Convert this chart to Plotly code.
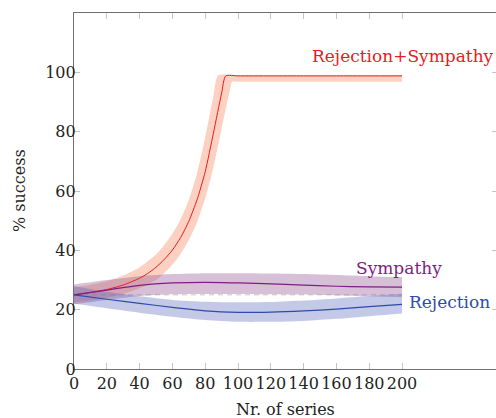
import plotly.graph_objects as go

# ---------------- data ----------------
# Rejection+Sympathy (red)
rs_x = [0, 10, 20, 30, 40, 45, 50, 55, 60, 65, 70, 75, 80, 85, 90, 92.5, 100, 120, 140, 160, 180, 200]
rs_y = [25, 25.8, 26.8, 28.3, 30.6, 32.2, 34.3, 36.9, 40.1, 44.3, 49.8, 57, 66.5, 79.5, 93, 98.8,
        98.8, 98.8, 98.8, 98.8, 98.8, 98.8]
rs_up_x = [0, 10, 20, 30, 40, 50, 55, 60, 65, 70, 75, 80, 85, 87.8, 100, 120, 140, 160, 180, 200]
rs_up_y = [27.5, 28.4, 29.6, 31.5, 34.3, 38.6, 41.8, 45.6, 50.5, 57, 66, 78, 92, 99, 99, 99, 99, 99, 99, 99]
rs_lo_x = [0, 10, 20, 30, 40, 50, 55, 60, 65, 70, 75, 80, 85, 90, 95, 96.5, 100, 120, 140, 160, 180, 200]
rs_lo_y = [22.5, 23.1, 24, 25.3, 27.2, 30, 32.3, 35.2, 38.8, 43.5, 49.5, 57.5, 68, 81, 94, 96.8,
           96.8, 96.8, 96.8, 96.8, 96.8, 96.8]

# Sympathy (purple) and Rejection (blue)
series_x = [0, 20, 40, 60, 80, 100, 120, 140, 160, 180, 200]
sym_y = [25, 26.6, 28.2, 29, 29.2, 29, 28.7, 28.3, 27.9, 27.7, 27.6]
sym_up = [28.5, 30, 31.3, 32, 32.3, 32.3, 32.2, 32, 31.7, 31.3, 31]
sym_lo = [21.8, 23.3, 24.6, 25.2, 25.3, 25.3, 25.2, 25.1, 24.8, 24.5, 24.2]
rej_y = [25, 23.5, 22.1, 20.8, 19.6, 19.1, 19.2, 19.6, 20.2, 21, 21.8]
rej_up = [28, 26, 24.5, 23.3, 22.7, 22.5, 22.6, 23.1, 23.8, 24.6, 25.4]
rej_lo = [22, 20.5, 19, 17.6, 16.5, 15.9, 15.9, 16.2, 16.9, 17.8, 18.7]

chance_level = 25

x_ticks = [0, 20, 40, 60, 80, 100, 120, 140, 160, 180, 200]
y_ticks = [0, 20, 40, 60, 80, 100]

# ---------------- styles ----------------
FONT = "DejaVu Serif"
RED, RED_BAND = "rgb(235,25,35)", "rgba(248,140,100,0.40)"
PUR, PUR_BAND = "rgb(128,30,128)", "rgba(150,90,150,0.38)"
BLU, BLU_BAND = "rgb(45,75,175)", "rgba(90,100,190,0.35)"
AXIS = "#707070"
TICK = "#c4c4c4"

fig = go.Figure()


def band(xl, yl, xu, yu, color):
    fig.add_trace(go.Scatter(x=xl, y=yl, mode="lines", line=dict(width=0, shape="spline", smoothing=0.6),
                             hoverinfo="skip", showlegend=False))
    fig.add_trace(go.Scatter(x=xu, y=yu, mode="lines", line=dict(width=0, shape="spline", smoothing=0.6),
                             fill="tonexty", fillcolor=color, hoverinfo="skip", showlegend=False))


# dashed chance line
fig.add_trace(go.Scatter(x=[series_x[0], series_x[-1]], y=[chance_level, chance_level], mode="lines",
                         line=dict(color="#c8c8c8", width=1, dash="5px,4px"), showlegend=False))

band(rs_lo_x, rs_lo_y, rs_up_x, rs_up_y, RED_BAND)
band(series_x, sym_lo, series_x, sym_up, PUR_BAND)
band(series_x, rej_lo, series_x, rej_up, BLU_BAND)

fig.add_trace(go.Scatter(x=rs_x, y=rs_y, mode="lines",
                         line=dict(color=RED, width=1, shape="spline", smoothing=0.6), showlegend=False))
fig.add_trace(go.Scatter(x=series_x, y=sym_y, mode="lines",
                         line=dict(color=PUR, width=1.2, shape="spline"), showlegend=False))
fig.add_trace(go.Scatter(x=series_x, y=rej_y, mode="lines",
                         line=dict(color=BLU, width=1.2, shape="spline"), showlegend=False))

# invisible trace for right-side mirrored y ticks
fig.add_trace(go.Scatter(x=[0], y=[0], yaxis="y2", mode="markers", marker=dict(opacity=0),
                         hoverinfo="skip", showlegend=False))

fig.add_annotation(x=144, y=105.4, text="Rejection+Sympathy", showarrow=False, xanchor="left",
                   yanchor="middle", font=dict(family=FONT, size=17, color=RED))
fig.add_annotation(x=171, y=34.0, text="Sympathy", showarrow=False, xanchor="left",
                   yanchor="middle", font=dict(family=FONT, size=17, color=PUR))
fig.add_annotation(x=203, y=22.6, text="Rejection", showarrow=False, xanchor="left",
                   yanchor="middle", font=dict(family=FONT, size=17, color=BLU))

# axis titles
fig.add_annotation(xref="paper", yref="paper", x=0.5, y=0, yshift=-40, text="Nr. of series",
                   showarrow=False, xanchor="center", yanchor="middle",
                   font=dict(family=FONT, size=16, color="#222"))
fig.add_annotation(xref="paper", yref="paper", x=0, y=0.5, xshift=-55, text="% success",
                   textangle=-90, showarrow=False, xanchor="center", yanchor="middle",
                   font=dict(family=FONT, size=16, color="#222"))

fig.update_layout(
    width=496, height=418,
    margin=dict(l=74, r=0, t=13, b=49),
    plot_bgcolor="white", paper_bgcolor="white",
    font=dict(family=FONT, size=16, color="#222"),
    xaxis=dict(range=[0, 257.3], tickvals=x_ticks, ticks="inside", ticklen=6, tickcolor=TICK,
               tickwidth=1, showline=True, linecolor=AXIS, linewidth=1.2, mirror="ticks",
               showgrid=False, zeroline=False, tickfont=dict(family=FONT, size=16, color="#222")),
    yaxis=dict(range=[0, 120], tickvals=y_ticks, ticks="inside", ticklen=6, tickcolor=TICK,
               tickwidth=1, showline=True, linecolor=AXIS, linewidth=1.2, mirror=False,
               ticklabelstandoff=-6,
               showgrid=False, zeroline=False, tickfont=dict(family=FONT, size=16, color="#222")),
    yaxis2=dict(range=[0, 120], overlaying="y", side="right", tickvals=y_ticks, ticks="inside",
                ticklen=4, tickcolor=TICK, showticklabels=False, showline=False, showgrid=False,
                zeroline=False),
)

fig.write_html("out.html", config={"displayModeBar": False},
               post_script="document.body.style.margin='0';document.body.style.padding='0';"
                           "document.documentElement.style.overflow='hidden';")
